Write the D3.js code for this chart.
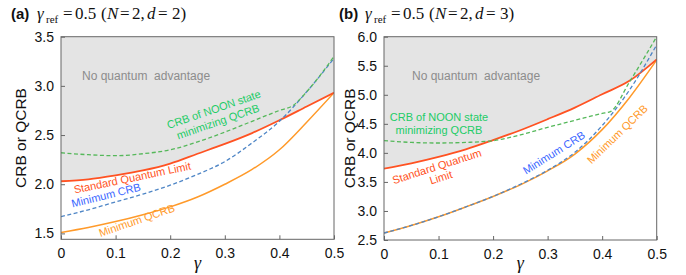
<!DOCTYPE html>
<html>
<head>
<meta charset="utf-8">
<script src="https://cdn.jsdelivr.net/npm/d3@7"></script>
<style>
  body { margin: 0; background: #fff; }
  svg { display: block; }
</style>
</head>
<body>
<script>
// Values
const gamma = [0, 0.05, 0.1, 0.15, 0.2, 0.25, 0.3, 0.35, 0.4, 0.45, 0.5];
const xTicks = [0, 0.1, 0.2, 0.3, 0.4, 0.5];

// panel (a): N = 2, d = 2
const sqlA = [2.03, 2.05, 2.09, 2.14, 2.21, 2.31, 2.41, 2.52, 2.65, 2.79, 2.93];
const minCrbA = [1.67, 1.74, 1.82, 1.90, 1.99, 2.10, 2.23, 2.42, 2.64, 2.94, 3.28];
const minQcrbA = [1.51, 1.56, 1.62, 1.69, 1.77, 1.87, 2.00, 2.15, 2.35, 2.63, 2.93];
const noonGammaA = [0, 0.05, 0.1, 0.15, 0.2, 0.25, 0.3, 0.35, 0.4, 0.425, 0.45, 0.475, 0.5];
const noonA = [2.32, 2.30, 2.29, 2.31, 2.35, 2.43, 2.53, 2.64, 2.75, 2.80, 2.94, 3.11, 3.30];
const yTicksA = [1.5, 2.0, 2.5, 3.0, 3.5];

// panel (b): N = 2, d = 3
const sqlB = [3.73, 3.82, 3.93, 4.06, 4.22, 4.39, 4.58, 4.78, 5.01, 5.24, 5.61];
const minCrbB = [2.62, 2.75, 2.90, 3.07, 3.25, 3.46, 3.70, 4.01, 4.47, 5.08, 5.86];
const minQcrbB = [2.62, 2.75, 2.90, 3.07, 3.25, 3.45, 3.69, 3.98, 4.40, 4.95, 5.60];
const noonGammaB = [0, 0.05, 0.1, 0.15, 0.2, 0.25, 0.3, 0.35, 0.4, 0.415, 0.45, 0.5];
const noonB = [4.21, 4.18, 4.17, 4.18, 4.21, 4.31, 4.44, 4.56, 4.68, 4.71, 5.22, 6.0];
const yTicksB = [2.5, 3.0, 3.5, 4.0, 4.5, 5.0, 5.5, 6.0];

// Colours
const red = "#ff5222", orange = "#ff9a2a", blueLine = "#4f86c6", blueText = "#3a66ff",
      greenLine = "#55b85a", greenText = "#22cc66", grayFill = "#e4e4e4", axisColor = "#666";

const sans = "'Liberation Sans', Arial, sans-serif";
const serif = "'Liberation Serif', 'Times New Roman', serif";

const W = 686, H = 275;
const svg = d3.select("body").append("svg")
    .attr("width", W).attr("height", H)
    .attr("viewBox", [0, 0, W, H])
    .style("font-family", sans);

function drawPanel(p) {
    const x = d3.scaleLinear().domain([0, 0.5]).range([p.left, p.right]);
    const y = d3.scaleLinear().domain(p.yDomain).range([p.bottom, p.top]);
    const g = svg.append("g");

    const clipId = "clip-" + p.tag;
    g.append("clipPath").attr("id", clipId)
      .append("rect")
        .attr("x", p.left).attr("y", p.top)
        .attr("width", p.right - p.left).attr("height", p.bottom - p.top);

    const plot = g.append("g").attr("clip-path", `url(#${clipId})`);

    // grey "no quantum advantage" region above the SQL
    const area = d3.area()
        .x((d, i) => x(gamma[i]))
        .y0(y(p.yDomain[1]))
        .y1(d => y(d))
        .curve(d3.curveMonotoneX);
    plot.append("path").datum(p.sql)
        .attr("d", area).attr("fill", grayFill);

    const line = xs => d3.line()
        .x((d, i) => x(xs[i]))
        .y(d => y(d))
        .curve(d3.curveMonotoneX);

    plot.append("path").datum(p.minQcrb)
        .attr("d", line(gamma)).attr("fill", "none")
        .attr("stroke", orange).attr("stroke-width", 1.5);
    plot.append("path").datum(p.sql)
        .attr("d", line(gamma)).attr("fill", "none")
        .attr("stroke", red).attr("stroke-width", 1.8);
    plot.append("path").datum(p.minCrb)
        .attr("d", line(gamma)).attr("fill", "none")
        .attr("stroke", blueLine).attr("stroke-width", 1.3)
        .attr("stroke-dasharray", "4,2.5");
    plot.append("path").datum(p.noon)
        .attr("d", line(p.noonGamma)).attr("fill", "none")
        .attr("stroke", greenLine).attr("stroke-width", 1.3)
        .attr("stroke-dasharray", "4,2.5");

    // axes (ticks pointing inward, box around plot)
    g.append("g")
        .attr("transform", `translate(0,${p.bottom})`)
        .call(d3.axisBottom(x).tickValues(xTicks)
            .tickFormat(d => d === 0 ? "0" : d3.format(".1f")(d))
            .tickSizeInner(-4).tickSizeOuter(0).tickPadding(9))
        .call(a => a.select(".domain").remove())
        .call(a => a.selectAll("line").attr("stroke", axisColor))
        .call(a => a.selectAll("text").attr("font-size", 14).attr("fill", "#111")
            .attr("font-family", sans));

    g.append("g")
        .attr("transform", `translate(${p.left},0)`)
        .call(d3.axisLeft(y).tickValues(p.yTicks)
            .tickFormat(d3.format(".1f"))
            .tickSizeInner(-4).tickSizeOuter(0).tickPadding(7))
        .call(a => a.select(".domain").remove())
        .call(a => a.selectAll("line").attr("stroke", axisColor))
        .call(a => a.selectAll("text").attr("font-size", 14).attr("fill", "#111")
            .attr("font-family", sans));

    g.append("rect")
        .attr("x", p.left).attr("y", p.top)
        .attr("width", p.right - p.left).attr("height", p.bottom - p.top)
        .attr("fill", "none").attr("stroke", axisColor).attr("stroke-width", 1);

    // axis titles
    g.append("text")
        .attr("transform", `translate(${p.yLabelX},${(p.top + p.bottom) / 2}) rotate(-90)`)
        .attr("text-anchor", "middle").attr("dominant-baseline", "central")
        .attr("font-size", 15.5).attr("fill", "#111")
        .text("CRB or QCRB");
    g.append("text")
        .attr("x", (p.left + p.right) / 2).attr("y", 269)
        .attr("text-anchor", "middle")
        .attr("font-family", serif).attr("font-style", "italic")
        .attr("font-size", 18).attr("fill", "#111")
        .text("γ");

    // panel title, pieces placed like the math typesetting of the original
    const o = p.titleX;
    const t = g.append("text").attr("y", 19).attr("fill", "#111")
        .attr("font-family", serif).attr("font-size", 17);
    t.append("tspan").attr("x", o).attr("font-family", sans).attr("font-weight", "bold")
        .attr("font-size", 15).text(p.tag === "a" ? "(a)" : "(b)");
    t.append("tspan").attr("x", o + 26).attr("font-style", "italic").text("γ");
    t.append("tspan").attr("x", o + 35).attr("dy", 4).attr("font-size", 11).text("ref");
    const pieces = [
        [52, "=", false, -4], [64, "0.5", false, 0], [90, "(", false, 0],
        [96, "N", true, 0], [109, "=", false, 0], [121, "2,", false, 0], [136, "d", true, 0],
        [147, "=", false, 0], [161, p.d + ")", false, 0]
    ];
    pieces.forEach(([dx, s, it, dy]) => {
        t.append("tspan").attr("x", o + dx).attr("dy", dy)
            .attr("font-style", it ? "italic" : "normal").text(s);
    });

    // annotations
    g.append("text")
        .attr("x", p.noAdv[0]).attr("y", p.noAdv[1])
        .attr("font-size", 12).attr("fill", "#8c8c8c")
        .attr("xml:space", "preserve")
        .text("No quantum  advantage");

    p.labels.forEach(l => {
        const txt = g.append("text")
            .attr("transform", `translate(${l.x},${l.y}) rotate(${l.rot})`)
            .attr("text-anchor", "middle")
            .attr("font-size", 11).attr("fill", l.color);
        l.lines.forEach((s, i) => {
            txt.append("tspan").attr("x", 0).attr("dy", i === 0 ? 0 : 13).text(s);
        });
    });
}

drawPanel({
    tag: "a", d: 2,
    left: 61, right: 334, top: 36.7, bottom: 239.3,
    yDomain: [1.44, 3.5], yTicks: yTicksA,
    sql: sqlA, minCrb: minCrbA, minQcrb: minQcrbA, noon: noonA, noonGamma: noonGammaA,
    yLabelX: 20, titleX: 11,
    noAdv: [82, 80],
    labels: [
        { x: 215, y: 113, rot: -19, color: greenText, lines: ["CRB of NOON state", "minimizing QCRB"] },
        { x: 133, y: 181.5, rot: -11.7, color: red, lines: ["Standard Quantum Limit"] },
        { x: 107, y: 199, rot: -14, color: blueText, lines: ["Minimum CRB"] },
        { x: 138, y: 224, rot: -19, color: orange, lines: ["Minimum QCRB"] }
    ]
});

drawPanel({
    tag: "b", d: 3,
    left: 384, right: 656.7, top: 36.7, bottom: 240,
    yDomain: [2.5, 6.0], yTicks: yTicksB,
    sql: sqlB, minCrb: minCrbB, minQcrb: minQcrbB, noon: noonB, noonGamma: noonGammaB,
    yLabelX: 349, titleX: 339,
    noAdv: [412, 80],
    labels: [
        { x: 439, y: 121, rot: 0, color: greenText, lines: ["CRB of NOON state", "minimizing QCRB"] },
        { x: 438, y: 170, rot: -17.7, color: red, lines: ["Standard Quantum"] },
        { x: 442, y: 181, rot: -17.7, color: red, lines: ["Limit"] },
        { x: 556, y: 156, rot: -32, color: blueText, lines: ["Minimum CRB"] },
        { x: 620, y: 137, rot: -44, color: orange, lines: ["Minimum QCRB"] }
    ]
});
</script>
</body>
</html>
